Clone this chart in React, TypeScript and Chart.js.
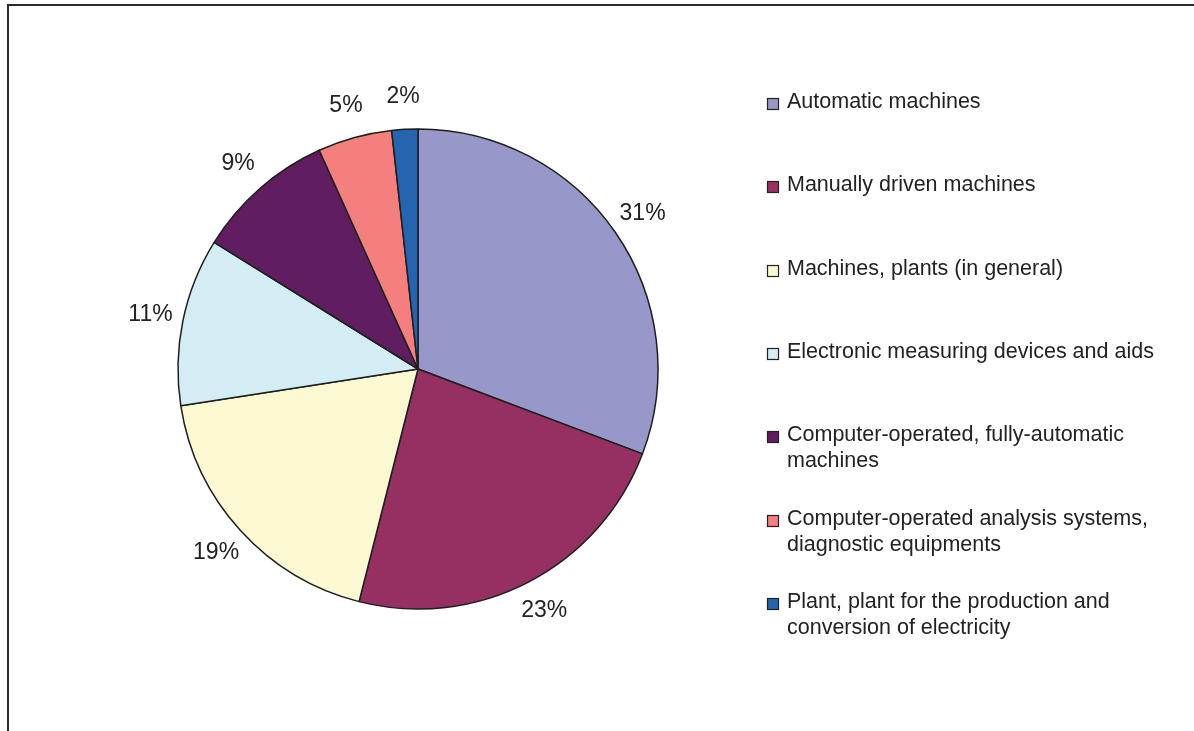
import React, { useEffect, useRef } from "react";
import { Chart, registerables } from "chart.js";

Chart.register(...registerables);

const categories: string[][] = [
  ["Automatic machines"],
  ["Manually driven machines"],
  ["Machines, plants (in general)"],
  ["Electronic measuring devices and aids"],
  ["Computer-operated, fully-automatic", "machines"],
  ["Computer-operated analysis systems,", "diagnostic equipments"],
  ["Plant, plant for the production and", "conversion of electricity"],
];

const shares: number[] = [30.75, 23.2, 18.6, 11.3, 9.4, 5.0, 1.75];

const sliceColors: string[] = [
  "#9797C9",
  "#963063",
  "#FAF9D2",
  "#D2EDF3",
  "#601D60",
  "#F37F7F",
  "#2664B0",
];

const FONT = "'Liberation Sans', Arial, sans-serif";
const TEXT_COLOR = "#222222";

const framePlugin = {
  id: "frame",
  beforeDraw(chart: any) {
    const ctx = chart.ctx;
    ctx.save();
    ctx.fillStyle = "#ffffff";
    ctx.fillRect(0, 0, chart.width, chart.height);
    ctx.strokeStyle = "#2a2a2a";
    ctx.lineWidth = 2;
    ctx.beginPath();
    ctx.moveTo(8, chart.height);
    ctx.lineTo(8, 5);
    ctx.lineTo(chart.width, 5);
    ctx.stroke();
    ctx.restore();
  },
};

const pctLabelPlugin = {
  id: "pctLabels",
  afterDatasetsDraw(chart: any) {
    const ctx = chart.ctx;
    const meta = chart.getDatasetMeta(0);
    const data = chart.data.datasets[0].data as number[];
    const total = data.reduce((a, b) => a + b, 0);
    ctx.save();
    ctx.font = `23px ${FONT}`;
    ctx.fillStyle = TEXT_COLOR;
    ctx.textAlign = "center";
    ctx.textBaseline = "middle";
    meta.data.forEach((arc: any, i: number) => {
      const mid = (arc.startAngle + arc.endAngle) / 2;
      const d = arc.outerRadius + 33;
      const x = arc.x + Math.cos(mid) * d;
      const y = arc.y + Math.sin(mid) * d;
      const pct = Math.round((data[i] / total) * 100);
      ctx.fillText(pct + "%", x, y);
    });
    ctx.restore();
  },
};

const legendPlugin = {
  id: "customLegend",
  afterDraw(chart: any) {
    const ctx = chart.ctx;
    const labels = chart.data.labels as string[][];
    const colors = chart.data.datasets[0].backgroundColor as string[];
    const x0 = 767;
    const y0 = 108;
    const step = 83.33;
    ctx.save();
    ctx.font = `21.5px ${FONT}`;
    ctx.textBaseline = "alphabetic";
    ctx.textAlign = "left";
    labels.forEach((lines, i) => {
      const base = Math.round(y0 + i * step);
      ctx.fillStyle = colors[i];
      ctx.fillRect(x0, base - 10, 12, 12);
      ctx.strokeStyle = "#222222";
      ctx.lineWidth = 1.2;
      ctx.strokeRect(x0 + 0.5, base - 9.5, 11, 11);
      ctx.fillStyle = TEXT_COLOR;
      lines.forEach((ln, j) => {
        ctx.fillText(ln, 787, base + j * 26);
      });
    });
    ctx.restore();
  },
};

export default function App() {
  const ref = useRef<HTMLCanvasElement | null>(null);
  useEffect(() => {
    document.body.style.margin = "0";
    if (!ref.current) return;
    const chart = new Chart(ref.current, {
      type: "pie",
      data: {
        labels: categories,
        datasets: [
          {
            data: shares,
            backgroundColor: sliceColors,
            borderColor: "#1e1e1e",
            borderWidth: 1.5,
          },
        ],
      },
      options: {
        responsive: false,
        animation: false,
        radius: 240,
        layout: { padding: { left: 178, top: 129, right: 536, bottom: 122 } },
        plugins: {
          legend: { display: false },
          tooltip: { enabled: false },
          title: { display: false },
        },
      } as any,
      plugins: [framePlugin, pctLabelPlugin, legendPlugin],
    });
    return () => chart.destroy();
  }, []);
  return (
    <div style={{ width: 1194, height: 731 }}>
      <canvas ref={ref} width={1194} height={731} style={{ display: "block" }} />
    </div>
  );
}
